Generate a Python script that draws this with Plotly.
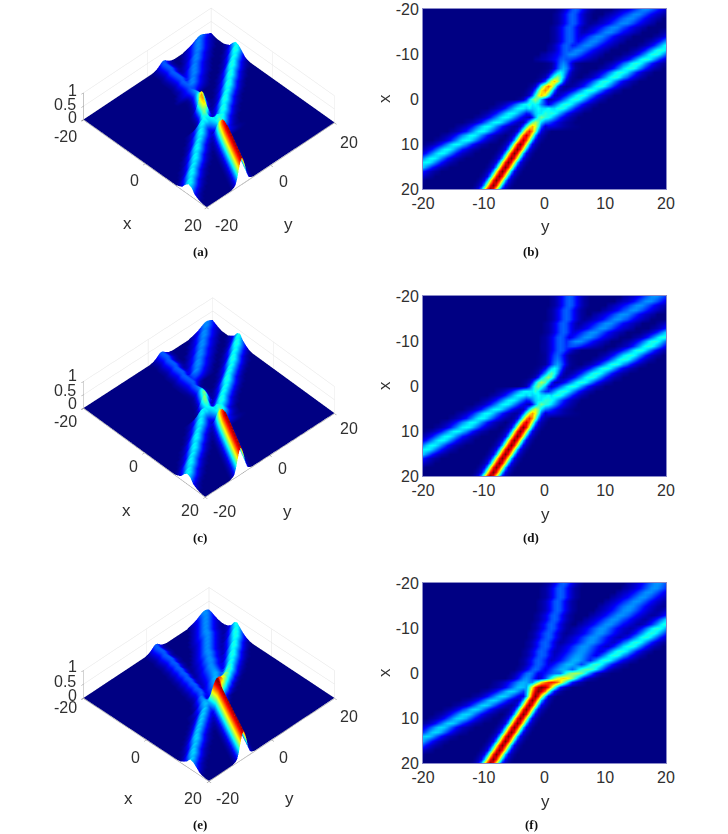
"""Soliton interaction panels: surface view on the left, top view on the right."""
import plotly.graph_objects as go

W, H = 728, 834
X_GRID = [v for v in range(-20, 21)]
Y_GRID = [v / 2 for v in range(-40, 41)]
TICKS_XY = [-20, 0, 20]
TICKS_MAP = [-20, -10, 0, 10, 20]
TICK_TEXT_MAP = ["-20", "-10", "0", "10", "20"]
TICKS_Z = [0, 0.5, 1]
PANEL_NAMES = ["(a)", "(b)", "(c)", "(d)", "(e)", "(f)"]

# cross sections, % of the ridge height, one sample per 0.5 of y
NARROW = [2, 5, 11, 30, 60, 86, 100, 86, 60, 30, 11, 5, 2]
NARROW_13 = [1, 3, 7, 14, 29, 50, 75, 92, 100, 92, 75, 50, 29, 14, 7, 3, 1]
NARROW_16 = [2, 4, 8, 14, 28, 45, 65, 84, 95, 100, 95, 84, 65, 45, 28, 14, 8, 4, 2]
NARROW_20 = [2, 4, 6, 11, 17, 30, 45, 60, 77, 90, 97, 100, 97, 90, 77, 60, 45, 30, 17, 11, 6, 4, 2]
LONG = [5, 8, 12, 18, 27, 38, 53, 68, 84, 96, 100, 96, 84, 68, 53, 38, 27, 18, 12, 8, 5]
WIDE = [11, 15, 22, 28, 37, 47, 60, 74, 86, 97, 100, 97, 86, 74, 60, 47, 37, 28, 22, 15, 11]
STEEP = [8, 14, 27, 45, 68, 91, 100, 91, 68, 45, 27, 14, 8]
HALF = [0] * 10 + [100, 96, 84, 68, 53, 38, 27, 18, 12, 8, 5]

# each ridge: (x row, y of the crest, crest height in %)
LONG_LEFT_BD = [
    (18, -25, 38), (17, -23.5, 38), (16, -22.5, 38), (15, -21, 38), (14, -19.5, 38), (13, -18.5, 38),
    (12, -17, 38), (11, -16, 38), (10, -14.5, 38), (9, -13, 38), (8, -12, 38), (7, -10.5, 38),
    (6, -9.5, 38), (5, -8, 38), (4, -6.5, 38), (3, -5.5, 38), (2, -4, 38), (1, -3, 38),
]
LINK_BD = [(1, -1.5, 38), (2, -2.5, 36), (2, -1, 38), (2, 0.5, 38), (3, -1, 36), (3, 0, 38)]
RED_B = [
    (20, -9, 100), (19, -8.5, 100), (18, -8, 100), (17, -7.5, 100), (16, -7, 100), (15, -6.5, 100), (14, -6, 100),
    (13, -5.5, 100), (12, -5, 100), (11, -4.5, 100), (10, -4, 100), (9, -3.5, 95), (8, -3, 92), (7, -2.5, 85),
    (6, -2, 70), (5, -1.5, 55), (4, -0.5, 48), (3, 0, 42),
]
BLOB_B = [
    (1, -2.5, 42), (0, -1.5, 52), (-1, -0.5, 68), (-2, 0, 74), (-3, 0.5, 76), (-4, 1.5, 68), (-5, 2, 52),
    (-6, 2.5, 38), (-7, 3, 30), (-8, 3, 26),
]
STEEP_B = [
    (-9, 3, 22), (-10, 3.5, 22), (-11, 3.5, 22), (-12, 3.5, 22), (-13, 4, 22), (-14, 4, 22), (-15, 4, 22),
    (-16, 4, 22), (-17, 4.5, 22), (-18, 4.5, 22), (-19, 4.5, 22), (-20, 5, 22),
]
UPPER_B = [
    (-9, 3.5, 20), (-10, 4.5, 26), (-11, 5.5, 26), (-12, 7, 26), (-13, 8, 26), (-14, 9, 26), (-15, 10.5, 26),
    (-16, 11.5, 26), (-17, 13, 26), (-18, 14, 26), (-19, 15, 26), (-20, 16.5, 26),
]
LONG_RIGHT_B = [
    (3, 1, 41), (2, 2.5, 41), (1, 3.5, 41), (0, 5, 41), (-1, 6, 41), (-2, 7.5, 41), (-3, 9, 41), (-4, 10, 41),
    (-5, 11.5, 41), (-6, 12.5, 41), (-7, 14, 41), (-8, 15, 41), (-9, 16.5, 41), (-10, 18, 41), (-11, 19, 41),
    (-12, 20.5, 41), (-13, 21.5, 41), (-14, 23, 41), (-15, 24, 41),
]
RIGHT_FOOT_BD = [(4, 0, 41), (5, -0.5, 25), (6, 0.5, 10)]

RED_D = [
    (20, -9, 100), (19, -8.5, 100), (18, -8, 100), (17, -7.5, 100), (16, -7, 100), (15, -6.5, 100), (14, -6, 100),
    (13, -5.5, 100), (12, -5, 100), (11, -4.5, 100), (10, -4, 100), (9, -3.5, 100), (8, -3, 92), (7, -2.5, 85),
    (6, -2, 72), (5, -1.5, 58), (4, -0.5, 48), (3, 0, 42),
]
BLOB_D = [
    (1, -1.5, 42), (0, -1, 50), (-1, -0.5, 54), (-2, 0.5, 52), (-3, 1, 46), (-4, 1.5, 38), (-5, 2, 28),
    (-6, 2, 24), (-7, 2, 22),
]
STEEP_D = [
    (-8, 2.5, 22), (-9, 2.5, 22), (-10, 2.5, 22), (-11, 2.5, 22), (-12, 3, 22), (-13, 3, 22), (-14, 3, 22),
    (-15, 3.5, 22), (-16, 3.5, 22), (-17, 3.5, 22), (-18, 4, 22), (-19, 4, 22), (-20, 4, 22),
]
UPPER_D = [
    (-9, 4.5, 20), (-10, 5.5, 27), (-11, 7, 27), (-12, 8, 27), (-13, 9.5, 27), (-14, 10.5, 27), (-15, 12, 27),
    (-16, 13, 27), (-17, 14.5, 27), (-18, 15.5, 27), (-19, 17, 27), (-20, 18, 27),
]
LONG_RIGHT_D = [
    (3, 0.5, 41), (2, 2, 41), (1, 3, 41), (0, 4.5, 41), (-1, 6, 41), (-2, 7.5, 41), (-3, 8.5, 41), (-4, 10, 41),
    (-5, 11.5, 41), (-6, 13, 41), (-7, 14, 41), (-8, 15.5, 41), (-9, 17, 41), (-10, 18, 41), (-11, 19.5, 41),
    (-12, 21, 41), (-13, 22.5, 41), (-14, 23.5, 41),
]

RED_F = [
    (20, -9, 100), (19, -8.5, 100), (18, -8, 100), (17, -7.5, 100), (16, -7, 100), (15, -6.5, 100), (14, -6, 100),
    (13, -5.5, 100), (12, -5, 100), (11, -4.5, 100), (10, -4, 100), (9, -3.5, 100), (8, -3, 100), (7, -2.5, 100),
    (6, -2, 100), (5, -1.5, 100),
]
BEND_13_F = [(4, -1, 100)]
BEND_16_F = [(3, -0.5, 100)]
BEND_20_F = [(2, 1, 85), (1, 3, 66), (0, 5, 54), (-1, 7, 46)]
LONG_RIGHT_F = [
    (-2, 8.5, 43), (-3, 10, 41), (-4, 11.5, 41), (-5, 12.5, 41), (-6, 14, 41), (-7, 15, 41), (-8, 16.5, 41),
    (-9, 17.5, 41), (-10, 18.5, 41), (-11, 20, 41), (-12, 21, 41), (-13, 22.5, 41), (-14, 23.5, 41), (-15, 24.5, 41),
]
LONG_LEFT_F = [
    (18, -25, 34), (17, -23.5, 34), (16, -22, 34), (15, -21, 34), (14, -19.5, 34), (13, -18, 34), (12, -17, 34),
    (11, -15.5, 34), (10, -14, 34), (9, -13, 34), (8, -11.5, 34), (7, -10, 34), (6, -8.5, 34), (5, -7, 34),
    (4, -5.5, 34), (3, -4, 32), (2, -3.5, 30),
]
STEEP_F = [
    (1, -3, 27), (0, -2.5, 25), (-1, -1.5, 23), (-2, -1, 22), (-3, -1, 22), (-4, -0.5, 22), (-5, -0.5, 22),
    (-6, 0, 22), (-7, 0, 22), (-8, 0.5, 22), (-9, 0.5, 22), (-10, 1, 22), (-11, 1, 22), (-12, 1.5, 22),
    (-13, 1.5, 22), (-14, 2, 22), (-15, 2, 22), (-16, 2, 22), (-17, 2.5, 22), (-18, 2.5, 22), (-19, 2.5, 22), (-20, 3, 22),
]
UPPER_F = [
    (0, 2, 24), (-1, 3, 30), (-2, 4, 31), (-3, 5, 30), (-4, 5.5, 28), (-5, 6, 27), (-6, 6.5, 27), (-7, 7.5, 27),
    (-8, 8, 27), (-9, 9, 27), (-10, 9.5, 27), (-11, 10.5, 27), (-12, 11.5, 27), (-13, 12.5, 27), (-14, 13.5, 27),
    (-15, 14, 27), (-16, 15, 27), (-17, 16, 27), (-18, 17, 27), (-19, 18, 27), (-20, 18.5, 27),
]

JET = [
    [0, "rgb(0,0,131)"], [0.125, "rgb(0,0,255)"], [0.375, "rgb(0,255,255)"],
    [0.625, "rgb(255,255,0)"], [0.875, "rgb(255,0,0)"], [1, "rgb(128,0,0)"],
]
FONT = "Liberation Sans"
INK = "#303030"


def build_grid(*ridges):
    z = [[0.0 for _ in Y_GRID] for _ in X_GRID]
    for rows, profile in ridges:
        half = (len(profile) - 1) // 2
        for x, crest_y, crest in rows:
            for k, pct in enumerate(profile):
                col = int(round(crest_y * 2)) + k - half + 40
                if 0 <= col <= 80:
                    z[x + 20][col] = max(z[x + 20][col], crest * pct / 10000)
    return z


def fx(px):
    return px / W


def fy(py):
    return 1 - py / H


def scene_layout(top, bottom, eye, shift):
    axis = dict(
        showbackground=False, gridcolor="#e2e2e2", gridwidth=1, zeroline=False, showline=True,
        linecolor="#8c8c8c", ticks="outside", ticklen=3, tickcolor="#8c8c8c",
        showticklabels=False, showspikes=False, title=dict(text=""),
    )
    return dict(
        domain=dict(x=[fx(20), fx(398)], y=[fy(bottom), fy(top)]),
        xaxis=dict(axis, range=[-20, 20], tickvals=TICKS_XY),
        yaxis=dict(axis, range=[-20, 20], tickvals=TICKS_XY),
        zaxis=dict(axis, range=[-0.02, 1], tickvals=TICKS_Z),
        aspectmode="manual", aspectratio=dict(x=1, y=1, z=0.21),
        camera=dict(eye=dict(eye, z=eye["z"] + shift), up=dict(x=0, y=0, z=1), center=dict(x=0, y=0, z=shift),
                    projection=dict(type="orthographic")),
    )


GRIDS = [
    build_grid((LONG_LEFT_BD, LONG), (LINK_BD, STEEP), (RED_B, NARROW), (BLOB_B, NARROW), (STEEP_B, STEEP),
               (UPPER_B, WIDE), (LONG_RIGHT_B, LONG), (RIGHT_FOOT_BD, HALF)),
    build_grid((LONG_LEFT_BD, LONG), (LINK_BD, STEEP), (RED_D, NARROW), (BLOB_D, NARROW), (STEEP_D, STEEP),
               (UPPER_D, WIDE), (LONG_RIGHT_D, LONG), (RIGHT_FOOT_BD, HALF)),
    build_grid((LONG_LEFT_F, LONG), (RED_F, NARROW), (BEND_13_F, NARROW_13), (BEND_16_F, NARROW_16),
               (BEND_20_F, NARROW_20), (LONG_RIGHT_F, LONG), (STEEP_F, STEEP), (UPPER_F, WIDE)),
]
# top and bottom pixel of each map, and of each surface scene
MAP_ROWS = [(9, 189), (296, 476), (583, 763)]
SCENE_ROWS = [(0, 355), (220, 575), (479, 834)]
EYES = [dict(x=0.836, y=-0.808, z=1.10), dict(x=0.846, y=-0.797, z=1.10), dict(x=0.848, y=-0.848, z=1.058)]
SCENE_SHIFTS = [-0.54, 0, 0.21]

fig = go.Figure()
layout = {}
annotations = []


def note(text, px, py, size=16, font=FONT, angle=0, color=INK):
    annotations.append(dict(
        text=text, x=fx(px), y=fy(py), xref="paper", yref="paper", showarrow=False, xanchor="center", yanchor="middle",
        textangle=angle, font=dict(family=font, size=size, color=color),
    ))


for i, z in enumerate(GRIDS):
    n = "" if i == 0 else str(i + 1)
    z_swapped = [list(col) for col in zip(*z)]
    fig.add_trace(go.Surface(
        x=X_GRID, y=Y_GRID, z=z_swapped, scene="scene" + n, colorscale=JET, cmin=0, cmax=1, showscale=False,
        lighting=dict(ambient=1, diffuse=0, specular=0, roughness=1, fresnel=0), hoverinfo="skip",
    ))
    fig.add_trace(go.Heatmap(
        x=Y_GRID, y=X_GRID, z=z, xaxis="x" + n, yaxis="y" + n, colorscale=JET, zmin=0, zmax=1,
        zsmooth="best", showscale=False,
    ))
    top, bottom = MAP_ROWS[i]
    map_axis = dict(
        range=[-20, 20], tickvals=TICKS_MAP, ticktext=TICK_TEXT_MAP, ticks="", showline=True,
        linecolor="#8a8ac8", linewidth=1, mirror=True, showgrid=False, zeroline=False, automargin=False,
        tickfont=dict(family=FONT, size=16, color=INK),
    )
    layout["xaxis" + n] = dict(map_axis, domain=[fx(423), fx(666)], anchor="y" + n)
    layout["yaxis" + n] = dict(map_axis, domain=[fy(bottom), fy(top)], anchor="x" + n, range=[20, -20])
    note("y", 545, bottom + 38, size=17)
    note("x", 384, (top + bottom) / 2, size=17, angle=-90)
    s_top, s_bottom = SCENE_ROWS[i]
    layout["scene" + n] = scene_layout(s_top, s_bottom, EYES[i], SCENE_SHIFTS[i])

# tick and axis texts of the three surface views, placed where the picture has them
SURFACE_TEXT = [
    ("1", 72, 90), ("0.5", 65, 104), ("0", 72, 117), ("-20", 65, 137), ("0", 134, 180), ("20", 193, 225),
    ("x", 127, 223), ("-20", 226, 225), ("0", 283, 182), ("20", 349, 142), ("y", 288, 224),
    ("1", 72, 375), ("0.5", 65, 390), ("0", 72, 403), ("-20", 65, 422), ("0", 133, 467), ("20", 190, 511),
    ("x", 126, 510), ("-20", 224, 512), ("0", 282, 469), ("20", 349, 428), ("y", 287, 512),
    ("1", 72, 666), ("0.5", 65, 681), ("0", 72, 695), ("-20", 65, 707), ("0", 135, 757), ("20", 193, 798),
    ("x", 128, 798), ("-20", 227, 798), ("0", 283, 757), ("20", 349, 716), ("y", 289, 798),
]
for text, px, py in SURFACE_TEXT:
    note(text, px, py, size=17 if text in ("x", "y") else 16)

LABEL_POS = [(200, 251), (531, 251), (200, 537), (531, 537), (200, 824), (531, 824)]
for name, (px, py) in zip(PANEL_NAMES, LABEL_POS):
    note("<b>%s</b>" % name, px, py, size=13, font="Liberation Serif", color="#111111")

fig.update_layout(
    width=W, height=H, margin=dict(l=0, r=0, t=0, b=0, autoexpand=False), paper_bgcolor="white", plot_bgcolor="white",
    showlegend=False, annotations=annotations, **layout,
)
fig.write_html("out.html", config=dict(displayModeBar=False), post_script="document.body.style.margin = '0';")
